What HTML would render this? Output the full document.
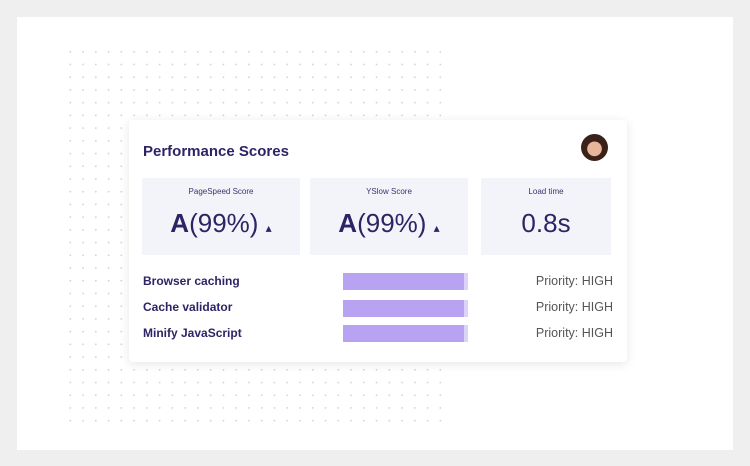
<!DOCTYPE html>
<html><head><style>
*{margin:0;padding:0;box-sizing:border-box}
body{width:750px;height:466px;background:#efefef;position:relative;overflow:hidden;font-family:"Liberation Sans",sans-serif;color:#2d2466}
.panel{position:absolute;left:17px;top:17px;width:716px;height:433px;background:#fff}
.card{position:absolute;left:129px;top:120px;width:498px;height:242px;background:#fff;border-radius:4px;box-shadow:0 2px 10px rgba(0,0,0,.10)}
.t{position:absolute;left:14px;top:23px;font-size:15px;font-weight:bold;color:#2d2466}
.av{position:absolute;left:452px;top:14px;width:27px;height:27px;border-radius:50%;background:radial-gradient(circle at 50% 55%,#e7b69a 0 35%,#3a2219 38%)}
.box{position:absolute;top:58px;height:77px;background:#f3f4f9}
.box .l{position:absolute;top:9px;width:100%;text-align:center;font-size:8px;color:#3a3470}
.box .v{position:absolute;top:30px;width:100%;text-align:center;font-size:26px;color:#2d2466}
.row{position:absolute;left:14px;font-size:12px;font-weight:bold;color:#2d2466}
.bar{position:absolute;left:214px;width:125px;height:17px;background:#b7a3f2}
.bar::after{content:"";position:absolute;right:0;top:0;width:4px;height:100%;background:#ddd3fa}
.p{position:absolute;right:14px;font-size:12.5px;color:#555}
</style></head><body>
<div class="panel"></div>
<svg style="position:absolute;left:0;top:0" width="750" height="466">
<defs><pattern id="d" x="69.5" y="51" width="12.76" height="12.72" patternUnits="userSpaceOnUse"><circle cx="0.7" cy="0.7" r="1" fill="#d4d4d4"/></pattern></defs>
<rect x="68" y="49" width="375" height="374" fill="url(#d)"/>
</svg>
<div class="card">
<div class="t">Performance Scores</div>
<div class="av"></div>
<div class="box" style="left:13px;width:158px"><div class="l">PageSpeed Score</div><div class="v"><b>A</b>(99%) <span style="font-size:12px">&#9652;</span></div></div>
<div class="box" style="left:181px;width:158px"><div class="l">YSlow Score</div><div class="v"><b>A</b>(99%) <span style="font-size:12px">&#9652;</span></div></div>
<div class="box" style="left:352px;width:130px"><div class="l">Load time</div><div class="v">0.8s</div></div>
<div class="row" style="top:154px">Browser caching</div><div class="bar" style="top:153px"></div><div class="p" style="top:154px">Priority: HIGH</div>
<div class="row" style="top:180px">Cache validator</div><div class="bar" style="top:180px"></div><div class="p" style="top:180px">Priority: HIGH</div>
<div class="row" style="top:206px">Minify JavaScript</div><div class="bar" style="top:205px"></div><div class="p" style="top:206px">Priority: HIGH</div>
</div>
</body></html>
